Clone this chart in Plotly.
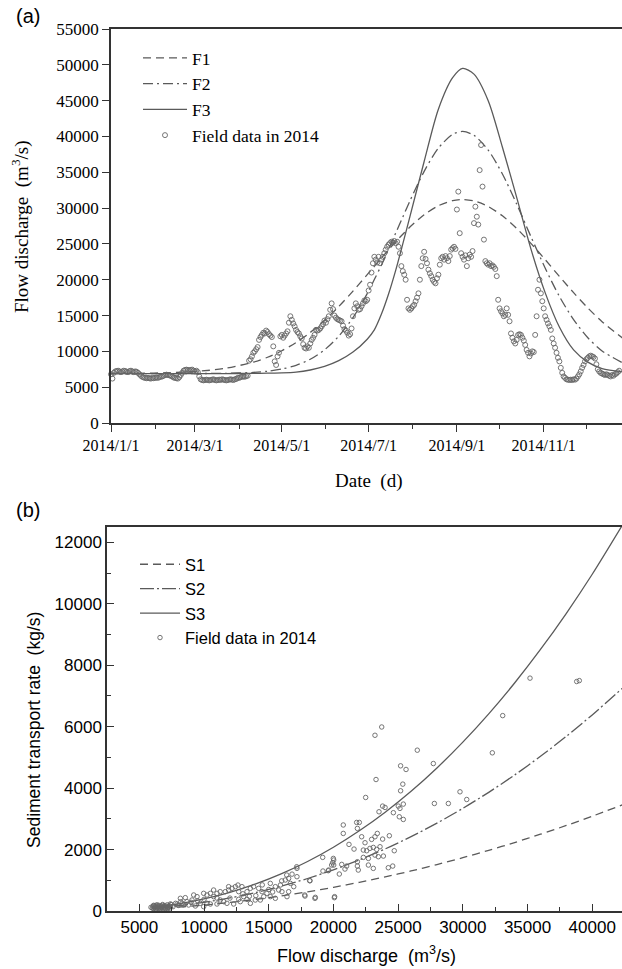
import plotly.graph_objects as go
import pandas as pd

W, H = 622, 969

def fx(px):
    return px / W

def fy(py):
    return 1 - py / H

# ---------------- Panel (a) data ----------------
start_date = "2014-01-01"
field_flow_2014 = [
    # Jan
    6800, 6200, 7000, 7200, 7250, 7300, 7200, 7100, 7200, 7300,
    7250, 7150, 7100, 7250, 7300, 7200, 7100, 7200, 7150, 7000,
    6800, 6600, 6450, 6350, 6300, 6250, 6300, 6250, 6200, 6300, 6250,
    # Feb
    6300, 6350, 6300, 6400, 6450, 6500, 6600, 6700, 6750, 6700,
    6650, 6600, 6500, 6350, 6300, 6250, 6200, 6400, 6700, 7000,
    7300, 7400, 7450, 7400, 7350, 7400, 7450, 7300,
    # Mar
    7200, 7300, 7100, 6500, 6100, 6000, 5950, 6000, 6050, 6000,
    5950, 6000, 6050, 6100, 6000, 5950, 6000, 6050, 6000, 6100,
    6050, 6000, 5950, 6000, 6050, 6100, 6050, 6000, 6100, 6150, 6300,
    # Apr
    6300, 6400, 6450, 6500, 6450, 6550, 6600, 8700, 8900, 9300,
    9800, 10000, 10300, 10600, 11600, 12000, 12300, 12600, 12500, 12900,
    12700, 12400, 12200, 12000, 10700, 8600, 8100, 9300, 9800, 12100,
    # May
    12300, 11900, 12200, 12500, 12800, 14000, 14900, 14400, 13900, 13500,
    13000, 12700, 12500, 12100, 11800, 11000, 10500, 10400, 10700, 10500,
    11100, 11600, 11900, 12300, 13000, 12900, 13000, 13200, 13500, 13800, 14300,
    # Jun
    14000, 14500, 14900, 15800, 16700, 15900, 15000, 14700, 14500, 14400,
    14300, 14200, 13600, 13100, 12900, 12600, 12200, 12400, 13200, 14900,
    16000, 16700, 16300, 15800, 15900, 16300, 16700, 17100, 17000, 17200,
    # Jul
    18500, 19300, 21000, 22300, 23200, 22800, 22400, 23200, 22300, 22800,
    23200, 23700, 24200, 24600, 24900, 25100, 25300, 25200, 25400, 25100,
    25300, 24600, 23700, 21900, 21200, 20700, 20000, 17200, 16000, 15800, 16000,
    # Aug
    16300, 16500, 17000, 17500, 18100, 20000, 21900, 23000, 23900, 22900,
    22300, 21400, 20900, 20500, 20000, 19700, 19500, 20200, 20700, 22100,
    23000, 23200, 22800, 23300, 23000, 22600, 23300, 24200, 24400, 24600, 24300,
    # Sep
    29800, 32300, 26500, 23700, 23200, 22800, 23400, 21900, 23000, 23500,
    23200, 24000, 27900, 30200, 28800, 27700, 35300, 38800, 33000, 25600,
    22600, 22300, 22100, 22300, 21900, 22000, 21800, 21500, 20500, 17200,
    # Oct
    16000, 15600, 15300, 14900, 15100, 16000, 15100, 14200, 12500, 11900,
    11400, 11100, 11600, 12300, 12400, 12300, 11900, 11500, 10900, 10200,
    9800, 9300, 9700, 10000, 9900, 12300, 14900, 18600, 20000, 18100, 17000,
    # Nov
    16000, 14900, 14400, 13900, 13500, 13000, 11800, 11100, 10500, 9800,
    9100, 8600, 7700, 7000, 6500, 6300, 6100, 6050, 6000, 6050,
    6000, 6100, 6050, 6200, 6500, 6800, 7200, 7700, 8100, 8600,
    # Dec
    8900, 9100, 9300, 9400, 9300, 9200, 9000, 8200, 7500, 7200,
    7000, 6900, 6800, 6700, 6800, 6700, 6600, 6500, 6700, 6600,
    6800, 6900, 7100, 7300,
]

model_days = [0, 20, 40, 60, 80, 100, 110, 120, 130, 140, 150, 160, 170, 180,
              185, 190, 195, 200, 205, 210, 220, 230, 240, 247, 255, 265, 275,
              285, 295, 305, 315, 325, 335, 345, 360]
F1 = [6910, 6940, 7010, 7200, 7620, 8500, 9180, 10090, 11230, 12640, 14330,
      16260, 18410, 20710, 21870, 23040, 24180, 25300, 26340, 27350, 29070,
      30330, 31050, 31200, 31000, 30230, 28920, 27160, 25080, 22810, 20470,
      18190, 16060, 14140, 11760]
F2 = [6900, 6900, 6900, 6905, 6935, 7060, 7230, 7530, 8050, 8900, 10210,
      12120, 14710, 18060, 20020, 22050, 24250, 26500, 28750, 31000, 35130,
      38370, 40300, 40700, 40160, 38100, 34750, 30560, 26030, 21630, 17680,
      14430, 11900, 10060, 8340]
F3 = [6900, 6900, 6900, 6900, 6900, 6920, 6950, 6990, 7100, 7400, 7900,
      8700, 9900, 11700, 13000, 15200, 18000, 21300, 25000, 28800, 36500,
      43800, 48200, 49500, 48700, 45000, 38500, 31500, 24300, 18200, 13400,
      10200, 8500, 7600, 7150]

date_tick_vals = ["2014-01-01", "2014-03-01", "2014-05-01", "2014-07-01", "2014-09-01", "2014-11-01"]
date_tick_text = ["2014/1/1", "2014/3/1", "2014/5/1", "2014/7/1", "2014/9/1", "2014/11/1"]
date_minor_vals = ["2014-02-01", "2014-04-01", "2014-06-01", "2014-08-01", "2014-10-01", "2014-12-01"]

# ---------------- Panel (b) data ----------------
Q_model = [6000, 8000, 10000, 12000, 14000, 16000, 18000, 20000, 22000, 24000,
           26000, 28000, 30000, 32000, 34000, 36000, 38000, 40000, 42500]
S1 = [69, 123, 193, 278, 378, 494, 625, 771, 933, 1111, 1304, 1512, 1735,
      1974, 2229, 2499, 2784, 3085, 3483]
S2 = [89, 171, 282, 425, 601, 812, 1058, 1342, 1663, 2022, 2421, 2861, 3341,
      3863, 4427, 5035, 5687, 6383, 7315]
S3 = [115, 230, 394, 610, 882, 1216, 1612, 2077, 2612, 3217, 3897, 4657, 5497,
      6418, 7421, 8513, 9692, 10962, 12680]
Q_ticks = [5000, 10000, 15000, 20000, 25000, 30000, 35000, 40000]

sed_Q = [
    5900, 6000, 6050, 6100, 6150, 6200, 6250, 6300, 6300, 6350, 6400, 6450, 6500,
    6550, 6600, 6650, 6700, 6750, 6800, 6850, 6900, 6950, 7000, 7050, 7100, 7150,
    7200, 7250, 7300, 7350, 7400, 7450, 6100, 6250, 6400, 6600, 6800, 7000, 7200,
    7400, 7600, 7800, 8000, 8200, 8400,
    8170, 8550, 9070, 9460, 9710, 9970, 10230, 10490, 10740, 11000, 11250, 11640,
    11900, 12160, 12420, 12680, 12930, 13060, 13320, 13580, 13830, 14220, 14480,
    14610, 14860, 15120, 15510, 15770, 15900, 16280, 16540, 16670, 16930, 17180,
    17180, 16540, 16020, 16410, 15510, 15120, 10230, 11000, 11520, 12290, 12800,
    13580, 13960, 14350, 8810, 9330, 9970, 10490, 11770, 12680, 13320, 8680, 8300,
    7910, 9200, 10740, 11250, 11900, 12620, 16390, 17160, 14000, 14500, 15000,
    13000, 12000, 11000, 10000, 9500, 9000, 13500, 15300, 16000, 16800,
    18160, 17780, 18600, 20090, 19190, 19630, 20020, 20020,
    23730, 23210, 26480, 25190, 25610, 23290, 27720, 32280, 25190, 25360, 29780,
    30300, 22490, 23800, 23520, 23990, 25010, 25400, 25140, 24630, 25090, 25400,
    27800, 28880, 20760, 20760, 21795, 22000, 21850, 22180, 22440, 22950, 23210,
    23390, 23800, 24320, 21200, 21590, 22310, 22570, 22820, 23080, 23340, 23600,
    24700, 23210, 23470, 23860, 22700, 22310, 19170, 19990, 19940, 19860, 20640,
    21020, 20890, 20455, 19600, 21850, 21850, 21920, 22700, 23080, 24240, 24580,
    18190, 17800, 18570, 20070,
    35190, 38800, 39000, 33080,
]
sed_S = [
    120, 95, 150, 80, 170, 110, 140, 70, 190, 100, 160, 120, 85,
    175, 130, 95, 150, 110, 180, 75, 140, 120, 165, 90, 145, 200,
    110, 130, 170, 95, 150, 210, 185, 60, 200, 65, 210, 70, 80,
    230, 140, 250, 180, 300, 200,
    413, 434, 358, 467, 250, 575, 521, 575, 467, 575, 358, 629,
    683, 738, 792, 629, 792, 467, 629, 738, 792, 738, 629,
    467, 575, 900, 792, 683, 846, 1009, 1063, 900, 792, 1117,
    1388, 629, 629, 467, 413, 467, 250, 228, 304, 228, 304,
    250, 358, 358, 195, 163, 141, 228, 250, 380, 380, 304, 250,
    228, 521, 683, 629, 792, 845, 1170, 1440, 500, 850, 700,
    560, 420, 420, 380, 330, 280, 480, 620, 980, 1200,
    987, 521, 445, 467, 1301, 1334, 1659, 1496,
    5990, 5720, 5235, 4726, 4607, 4280, 4800, 5149, 3913, 4130, 3880,
    3630, 3696, 3414, 3230, 3370, 3414, 3480, 3340, 3200, 3067, 2980,
    3500, 3500, 2800, 2525, 2883, 2883, 2688, 2417, 2222, 2330, 2417,
    2525, 2341, 2450, 2168, 2016, 1984, 1962, 2038, 2070, 2005, 2092,
    1962, 1820, 1767, 1788, 1712, 1745, 1745, 1712, 1572, 1496, 1517,
    1463, 1366, 1203, 1312, 1604, 1463, 1333, 1496, 1387, 1409, 1463,
    986, 487, 411, 433,
    7580, 7470, 7500, 6360,
]

# ---------------- styling ----------------
LINE_COL = "#5a5a5a"
AX_COL = "#333333"
MARK_COL = "#666666"
SERIF = "Liberation Serif"
SANS = "Liberation Sans"

dates = pd.date_range(start_date, periods=len(field_flow_2014), freq="D")
mdates = [pd.Timestamp(start_date) + pd.Timedelta(days=d) for d in model_days]

fig = go.Figure()

dash_a = {"F1": "8px,5px", "F2": "10px,4px,2px,4px", "F3": "solid"}
for name, vals in (("F1", F1), ("F2", F2), ("F3", F3)):
    fig.add_trace(go.Scatter(
        x=mdates, y=vals, mode="lines", name=name,
        line=dict(color=LINE_COL, width=1.3, dash=dash_a[name], shape="spline", smoothing=0.8),
        xaxis="x", yaxis="y", legend="legend",
    ))
fig.add_trace(go.Scatter(
    x=dates, y=field_flow_2014, mode="markers", name="Field data in 2014",
    marker=dict(symbol="circle-open", size=5, color=MARK_COL, line=dict(width=0.9, color=MARK_COL)),
    xaxis="x", yaxis="y", legend="legend", cliponaxis=False,
))

dash_b = {"S1": "8px,5px", "S2": "14px,3px,2px,3px", "S3": "solid"}
for name, vals in (("S1", S1), ("S2", S2), ("S3", S3)):
    fig.add_trace(go.Scatter(
        x=Q_model, y=vals, mode="lines", name=name,
        line=dict(color=LINE_COL, width=1.3, dash=dash_b[name], shape="spline", smoothing=0.8),
        xaxis="x2", yaxis="y2", legend="legend2",
    ))
fig.add_trace(go.Scatter(
    x=sed_Q, y=sed_S, mode="markers", name="Field data in 2014",
    marker=dict(symbol="circle-open", size=4.5, color=MARK_COL, line=dict(width=0.9, color=MARK_COL)),
    xaxis="x2", yaxis="y2", legend="legend2",
))

axis_common = dict(
    showline=True, linecolor=AX_COL, linewidth=1.5,
    ticklen=7, tickwidth=1.3, tickcolor=AX_COL,
    showgrid=False, zeroline=False, automargin=False,
)

fig.update_layout(
    width=W, height=H,
    margin=dict(l=0, r=0, t=0, b=0, autoexpand=False),
    paper_bgcolor="white", plot_bgcolor="white",
    showlegend=True,
    xaxis=dict(
        **axis_common, ticks="outside", type="date", domain=[fx(111), 1.0], anchor="y",
        range=["2014-01-01", "2014-12-26"], mirror=True,
        tickmode="array", tickvals=date_tick_vals, ticktext=date_tick_text,
        tickfont=dict(family=SERIF, size=16, color="black"),
        minor=dict(tickmode="array", tickvals=date_minor_vals, ticks="outside",
                   ticklen=4, tickwidth=1.3, tickcolor=AX_COL),
    ),
    yaxis=dict(
        **axis_common, ticks="outside", domain=[fy(423), fy(29)], anchor="x",
        range=[0, 55000], dtick=5000, tickformat="d",
        tickfont=dict(family=SERIF, size=17, color="black"),
    ),
    xaxis2=dict(
        **axis_common, ticks="inside", domain=[fx(107), 1.0], anchor="y2",
        range=[2500, 42300], mirror=True,
        tickmode="array", tickvals=Q_ticks, tickformat="d",
        tickfont=dict(family=SANS, size=17, color="black"),
        minor=dict(dtick=2500, tick0=0, ticks="inside", ticklen=4, tickwidth=1.3, tickcolor=AX_COL),
    ),
    yaxis2=dict(
        **axis_common, ticks="inside", domain=[fy(911), fy(527)], anchor="x2",
        range=[0, 12500], dtick=2000, tickformat="d",
        tickfont=dict(family=SANS, size=17, color="black"),
        minor=dict(dtick=1000, tick0=0, ticks="inside", ticklen=4, tickwidth=1.3, tickcolor=AX_COL),
    ),
    legend=dict(
        x=fx(138), y=fy(40), xanchor="left", yanchor="top",
        bgcolor="rgba(0,0,0,0)", font=dict(family=SERIF, size=17.5, color="black"),
        traceorder="normal", itemwidth=44,
    ),
    legend2=dict(
        x=fx(135), y=fy(547), xanchor="left", yanchor="top",
        bgcolor="rgba(0,0,0,0)", font=dict(family=SANS, size=16.5, color="black"),
        traceorder="normal", itemwidth=40,
    ),
)

annotations = [
    dict(text="(a)", x=fx(28), y=fy(16), font=dict(family=SANS, size=20, color="black")),
    dict(text="(b)", x=fx(28), y=fy(510), font=dict(family=SANS, size=20, color="black")),
    dict(text="Flow discharge\u00a0 (m<sup>3</sup>/s)", x=fx(20), y=fy(227), textangle=-90,
         font=dict(family=SERIF, size=19, color="black")),
    dict(text="Date\u00a0 (d)", x=fx(369), y=fy(481),
         font=dict(family=SERIF, size=19, color="black")),
    dict(text="Sediment transport rate\u00a0 (kg/s)", x=fx(34), y=fy(730), textangle=-90,
         font=dict(family=SANS, size=17.5, color="black")),
    dict(text="Flow discharge\u00a0 (m<sup>3</sup>/s)", x=fx(366), y=fy(954),
         font=dict(family=SANS, size=18, color="black")),
]
for a in annotations:
    a.update(xref="paper", yref="paper", showarrow=False, xanchor="center", yanchor="middle")
fig.update_layout(annotations=annotations)

fig.write_html("out.html")
